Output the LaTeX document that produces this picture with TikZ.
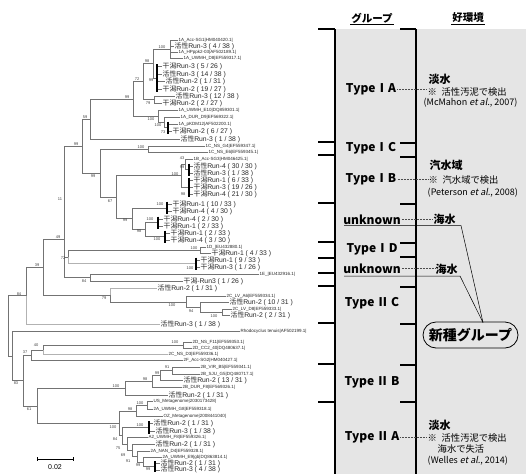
\documentclass[tikz,border=0pt]{standalone}
\usepackage{fontspec}
\newfontfamily\jp{Noto Sans CJK JP}
\newfontfamily\jpsl[FakeSlant=0.2]{Noto Sans CJK JP}
\newfontfamily\lib{Liberation Sans}
\newcommand{\tsp}{\hspace{0.35em}}
\newcommand{\KS}{{\jp 活性}}
\newcommand{\HG}{{\jp 干潟}}
\begin{document}
\begin{tikzpicture}[x=1pt,y=-1pt,
  br/.style={draw=black!55, line width=0.45pt},
  lbr/.style={draw=black!30, line width=0.45pt},
  bar/.style={draw=black, line width=1.2pt, shorten <=-2.5pt, shorten >=-2.5pt},
  big/.style={anchor=west, inner sep=0.5pt, font={\lib\fontsize{6.8}{7}\selectfont}, text=black!85},
  sml/.style={anchor=west, inner sep=0.5pt, font={\lib\fontsize{4.5}{5}\selectfont}, text=black!85},
  bs/.style={inner sep=0pt, font={\lib\fontsize{4}{4.5}\selectfont}, text=black!75},
  col/.style={draw=black, line width=1.3pt},
  hdr/.style={inner sep=1pt, font={\jp\bfseries\fontsize{10.5}{12}\selectfont}},
  typ/.style={inner sep=1pt, font={\jp\bfseries\fontsize{12}{14}\selectfont}},
  env/.style={anchor=west, inner sep=0.5pt, font={\jp\bfseries\fontsize{11}{13}\selectfont}},
  note/.style={anchor=west, inner sep=0.5pt, font={\jp\fontsize{9.3}{11}\selectfont}},
  cite/.style={inner sep=0.5pt, font={\jp\fontsize{9}{11}\selectfont}},
  dotc/.style={draw=black!70, line width=0.5pt, densely dotted},
  thin/.style={draw=black, line width=0.5pt},
  sc/.style={draw=black, line width=0.8pt}]
\useasboundingbox (0,0) rectangle (526,474);

% ---------------- right-hand panel ----------------
\fill[black!10] (335,29) rectangle (526,474);
\draw[col] (335,29) -- (335,474);
\draw[col] (416,29) -- (416,474);
\foreach \y in {29,142,155,203,242,258,273,286,323,364,402}
  \draw[col] (318,\y) -- (335,\y);
\foreach \y in {29,143,157,204,243,257,287,324,365,402}
  \draw[col] (400,\y) -- (416,\y);

\node[hdr] (gh) at (372,18) {グループ};
\draw[line width=0.8pt] (gh.south west) -- (gh.south east);
\node[hdr] (eh) at (468,18) {好環境};
\draw[line width=0.8pt] (eh.south west) -- (eh.south east);

\node[typ] (tIA) at (371,89.5) {Type\tsp I\tsp A};
\node[typ] (tIC) at (371,148) {Type\tsp I\tsp C};
\node[typ] (tIB) at (371,179) {Type\tsp I\tsp B};
\node[typ] (u1) at (372,219.5) {unknown};
\node[typ] (tID) at (372,249) {Type\tsp I\tsp D};
\node[typ] (u2) at (372,268.5) {unknown};
\node[typ] (tIIC) at (372,303) {Type\tsp II\tsp C};
\node[typ] (tIIB) at (372,382) {Type\tsp II\tsp B};
\node[typ] (tIIA) at (372,437) {Type\tsp II\tsp A};

\node[env] (eIA1) at (428,79.5) {淡水};
\node[note] (eIA2) at (427,91.5) {※\enspace 活性汚泥で検出};
\node[cite] (eIA3) at (470.5,102.5) {(McMahon {\jpsl et al.}, 2007)};
\draw[dotc] (tIA.east) -- (tIA.east -| eIA2.west);

\node[env] (eIB1) at (429,165) {汽水域};
\node[note] (eIB2) at (428,180) {※\enspace 汽水域で検出};
\node[cite,anchor=west] (eIB3) at (427,192.5) {(Peterson {\jpsl et al.}, 2008)};
\draw[dotc] (tIB.east) -- (tIB.east -| eIB2.west);

\node[env] (s1) at (433,219.5) {海水};
\draw[dotc] (u1.east) -- (u1.east -| s1.west);
\node[env] (s2) at (435,269.5) {海水};
\draw[dotc] (u2.east) -- (u2.east -| s2.west);

\node[env] (eIIA1) at (428,425) {淡水};
\node[note] (eIIA2) at (427,437.5) {※\enspace 活性汚泥で検出};
\node[note] (eIIA3) at (437,449) {海水で失活};
\node[cite,anchor=west] (eIIA4) at (427,460.5) {(Welles {\jpsl et al.}, 2014)};
\draw[dotc] (tIIA.east) -- (tIIA.east -| eIIA2.west);

\node[draw, line width=0.8pt, rounded corners=13pt, minimum width=95pt, minimum height=26pt,
      inner sep=1pt, font={\jp\bfseries\fontsize{14}{16}\selectfont}] (nb) at (470.5,335) {新種グループ};
\coordinate (tip) at (483,322.5);
\coordinate (u1s) at (344,225.5);
\coordinate (u1e) at (461,225.5);
\coordinate (u2s) at (344,276);
\coordinate (u2e) at (460,276);
\draw[thin] (u1s) -- (u1e) -- (tip);
\draw[thin] (u2s) -- (u2e) -- (tip);

% ---------------- tree: leaves ----------------
\node[sml] (L1) at (178,40) {1A\_Acc-SG1|HM040420.1|};
\node[big] (L2) at (174,46) {\KS Run-3 ( 4 / 38 )};
\node[sml] (L3) at (178,52) {1A\_HPppk2-03|AF502189.1|};
\node[sml] (L4) at (183,58) {1A\_UWMH\_D8|EF559317.1|};
\node[big] (L5) at (162,66.5) {\HG Run-3 ( 5 / 26 )};
\node[big] (L6) at (162,74) {\KS Run-3 ( 14 / 38 )};
\node[big] (L7) at (165,81.5) {\KS Run-2 ( 1 / 31 )};
\node[big] (L8) at (162,89) {\HG Run-2 ( 19 / 27 )};
\node[big] (L9) at (175,96) {\KS Run-3 ( 12 / 38 )};
\node[big] (L10) at (162,103) {\HG Run-2 ( 2 / 27 )};
\node[sml] (L11) at (178,110.5) {1A\_UWMH\_E10|DQ859301.1|};
\node[sml] (L12) at (180,117) {1A\_DUR\_D9|EF569322.1|};
\node[sml] (L13) at (178,124) {1A\_pKDM12|AF502200.1|};
\node[big] (L14) at (172,131) {\HG Run-2 ( 6 / 27 )};
\node[big] (L15) at (180,139) {\KS Run-3 ( 1 / 38 )};
\node[sml] (L16) at (205,146.5) {1C\_NS\_G4|EF559347.1|};
\node[sml] (L17) at (208,152) {1C\_NS\_E6|EF559345.1|};
\node[sml] (L18) at (193,159) {1B\_Acc-SG3|HM046425.1|};
\node[big] (L19) at (193,166) {\KS Run-4 ( 30 / 30 )};
\node[big] (L20) at (193,173) {\KS Run-3 ( 1 / 38 )};
\node[big] (L21) at (193,180) {\HG Run-1 ( 6 / 33 )};
\node[big] (L22) at (193,187) {\HG Run-3 ( 19 / 26 )};
\node[big] (L23) at (193,194) {\HG Run-4 ( 21 / 30 )};
\node[big] (L24) at (172,204) {\HG Run-1 ( 10 / 33 )};
\node[big] (L25) at (172,211.5) {\HG Run-4 ( 4 / 30 )};
\node[big] (L26) at (163,219) {\HG Run-4 ( 2 / 30 )};
\node[big] (L27) at (163,226) {\HG Run-1 ( 2 / 33 )};
\node[big] (L28) at (170,233) {\HG Run-1 ( 2 / 33 )};
\node[big] (L29) at (170,240) {\HG Run-4 ( 3 / 30 )};
\node[sml] (L30) at (206,247) {1D\_|EU432880.1|};
\node[big] (L31) at (211,253.5) {\HG Run-1 ( 4 / 33 )};
\node[big] (L32) at (200,260) {\HG Run-1 ( 9 / 33 )};
\node[big] (L33) at (200,267) {\HG Run-3 ( 1 / 26 )};
\node[sml] (L34) at (259,274) {1E\_|EU432916.1|};
\node[big] (L35) at (183,281.5) {\HG -Run3 ( 1 / 26 )};
\node[big] (L36) at (157,288) {\KS Run-2 ( 1 / 31 )};
\node[sml] (L37) at (226,296.5) {2C\_LV\_A6|EF559334.1|};
\node[big] (L38) at (229,302) {\KS Run-2 ( 10 / 31 )};
\node[sml] (L39) at (232,309) {2C\_LV\_D8|EF559333.1|};
\node[big] (L40) at (230,315.5) {\KS Run-2 ( 2 / 31 )};
\node[big] (L41) at (160,324) {\KS Run-3 ( 1 / 38 )};
\node[sml] (L42) at (240,331.5) {Rhodocyclus tenuis|AF502199.1|};
\node[sml] (L43) at (192,342.5) {2D\_NS\_F11|EF559353.1|};
\node[sml] (L44) at (192,348) {2D\_CC2\_40|DQ480637.1|};
\node[sml] (L45) at (168,354.5) {2C\_NS\_D3|EF559336.1|};
\node[sml] (L46) at (183,360.5) {2F\_Acc-SG2|HM040427.1|};
\node[sml] (L47) at (200,367.5) {2B\_VIR\_B5|EF559341.1|};
\node[sml] (L48) at (200,374) {2B\_SJU\_G5|DQ480717.1|};
\node[big] (L49) at (183,380.5) {\KS Run-2 ( 13 / 31 )};
\node[sml] (L50) at (182,387) {2B\_DUR\_F8|EF569326.1|};
\node[big] (L51) at (168,395) {\KS Run-2 ( 1 / 31 )};
\node[sml] (L52) at (153,401.5) {US\_Metagenome|2030173428|};
\node[sml] (L53) at (153,409) {2A\_UWMH\_G8|EF559318.1|};
\node[sml] (L54) at (163,416.5) {OZ\_Metagenome|2008441040|};
\node[big] (L55) at (153,423.5) {\KS Run-2 ( 1 / 31 )};
\node[big] (L56) at (155,431) {\KS Run-3 ( 1 / 38 )};
\node[sml] (L57) at (148,437.5) {A2\_UWMH\_F8|EF559326.1|};
\node[big] (L58) at (155,444.5) {\KS Run-2 ( 1 / 31 )};
\node[sml] (L59) at (150,451) {2A\_NAN\_D4|EF559328.1|};
\node[sml] (L60) at (162,457) {2A\_UWMH\_E9|gb|DQ863814.1|};
\node[big] (L61) at (160,463.5) {\KS Run-2 ( 1 / 31 )};
\node[big] (L62) at (160,469.8) {\KS Run-3 ( 4 / 38 )};

% ---------------- tree: internal nodes ----------------
\coordinate (nA) at (170,49);
\coordinate (b99) at (157,77.75);
\coordinate (n98) at (153,63.4);
\coordinate (n79a) at (154,99.5);
\coordinate (n72) at (143,81.4);
\coordinate (b73) at (168,127.5);
\coordinate (n100b) at (164,122.2);
\coordinate (n100a) at (158,116.4);
\coordinate (nIA) at (133,98.9);
\coordinate (n59) at (90,118.9);
\coordinate (n1C) at (148,149.2);
\coordinate (b99e) at (189,169.5);
\coordinate (n43) at (185,164.2);
\coordinate (b98) at (189,187);
\coordinate (n1B) at (181,175.6);
\coordinate (bU1) at (167,207.75);
\coordinate (bU2) at (158,222.5);
\coordinate (bU3) at (165,236.5);
\coordinate (n98b) at (145,229.5);
\coordinate (n99d) at (132,218.6);
\coordinate (n67) at (116,197.1);
\coordinate (n1CB) at (100,173.2);
\coordinate (n99c) at (82,146);
\coordinate (n1D) at (200,250.2);
\coordinate (bU4) at (196,263.5);
\coordinate (n72b) at (68,256.9);
\coordinate (n84a) at (90,277.7);
\coordinate (n11) at (64,239);
\coordinate (n2Cc) at (222,312.2);
\coordinate (n2Cb) at (200,307.1);
\coordinate (n2Ca) at (186,301.8);
\coordinate (n79b) at (110,294.9);
\coordinate (n49) at (43,267);
\coordinate (n39) at (26,295.5);
\coordinate (n2D) at (183,345.2);
\coordinate (n40) at (43,350.1);
\coordinate (n37) at (31,355.3);
\coordinate (n91) at (172,370.7);
\coordinate (n99f) at (160,375.6);
\coordinate (n98c) at (152,381.3);
\coordinate (nIIB) at (125,388.2);
\coordinate (n100c) at (147,405.25);
\coordinate (n98d) at (136,410.9);
\coordinate (bIIA) at (149,427.25);
\coordinate (bIIA2) at (155,466.6);
\coordinate (n99g) at (143,461.8);
\coordinate (n91b) at (137,456.4);
\coordinate (n69) at (132,450.5);
\coordinate (n75) at (127,444);
\coordinate (n84b) at (122,435.6);
\coordinate (nIIA) at (119,423.3);
\coordinate (n61) at (37,405.8);
\coordinate (n23) at (23,380.5);
\coordinate (n83) at (12,356);
\coordinate (nR) at (8,325.75);

% branches drawn as elbows parent |- child
\foreach \p/\c in {nA/L1.west, nA/L2.west, nA/L3.west, nA/L4.west,
  b99/L5.west, b99/L6.west, b99/L7.west, b99/L8.west,
  n98/nA, n98/b99, n79a/L9.west, n79a/L10.west, n72/n98, n72/n79a,
  b73/L13.west, b73/L14.west, n100b/L12.west, n100b/b73,
  n100a/L11.west, n100a/n100b, nIA/n72, nIA/n100a, n59/nIA, n59/L15.west,
  n1C/L16.west, n1C/L17.west,
  b99e/L19.west, b99e/L20.west, n43/L18.west, n43/b99e,
  b98/L21.west, b98/L22.west, b98/L23.west, n1B/n43, n1B/b98,
  bU1/L24.west, bU1/L25.west, bU2/L26.west, bU2/L27.west,
  bU3/L28.west, bU3/L29.west, n98b/bU2, n98b/bU3, n99d/bU1, n99d/n98b,
  n67/n1B, n67/n99d, n1CB/n1C, n1CB/n67, n99c/n59, n99c/n1CB,
  n1D/L30.west, n1D/L31.west, bU4/L32.west, bU4/L33.west, n72b/n1D,
  n84a/L34.west, n84a/L35.west, n11/n99c, n11/n72b, n11/n84a,
  n2Cc/L39.west, n2Cc/L40.west, n2Cb/L38.west, n2Cb/n2Cc,
  n2Ca/L37.west, n2Ca/n2Cb, n79b/n2Ca, n49/n11, n49/n79b, n39/n49,
  n2D/L43.west, n2D/L44.west, n40/n2D, n37/n40, n37/L46.west,
  n91/L47.west, n91/L48.west, n99f/n91, n99f/L49.west, n98c/n99f, n98c/L50.west,
  nIIB/n98c, nIIB/L51.west,
  n100c/L52.west, n100c/L53.west, n98d/n100c, n98d/L54.west,
  bIIA/L55.west, bIIA/L56.west, bIIA2/L61.west, bIIA2/L62.west,
  n99g/L60.west, n99g/bIIA2, n91b/L59.west, n91b/n99g, n69/L58.west, n69/n91b,
  n75/L57.west, n75/n69, n84b/bIIA, n84b/n75, nIIA/n98d, nIIA/n84b,
  n61/nIIB, n61/nIIA, n23/n37, n23/n61, n83/L42.west, n83/n23,
  nR/n39, nR/n83}
  \draw[br] (\p) |- (\c);
\foreach \p/\c in {n72b/bU4, n79b/L36.west, n39/L41.west, n40/L45.west}
  \draw[lbr] (\p) |- (\c);

% clusters of identical sequences
\foreach \b/\t/\u in {b99/L5/L8, b73/L13/L14, b99e/L19/L20, b98/L21/L23,
  bU1/L24/L25, bU2/L26/L27, bU3/L28/L29, bU4/L32/L33, bIIA/L55/L56, bIIA2/L61/L62}
  \draw[bar] (\b |- \t.west) -- (\b |- \u.west);

% bootstrap values
\foreach \x/\y/\t [count=\i] in {162/47/100, 147/61.5/98, 151/80/99, 137/79.5/72,
  148/103/79, 127/97/99, 151/119.5/100, 158/125/100, 163/132/73, 85/117/59,
  76/144/99, 141/147/100, 93/176/99, 110/201/67, 175/174/100, 182/158/43,
  182/167/99, 183/194/98, 160/204/100, 125/220/99, 150/219/100, 139/231/98,
  157/239/100, 194/248/100, 190/268/100, 60/199/11, 63/258/72, 84/281/84,
  58/237/49, 37/265/39, 104/298/79, 19/294/84, 172/305/100, 191/311/94,
  214/316/100, 16/383/83, 36/345/40, 25/352/37, 175/342/100, 29/409/61,
  116/386/100, 145/379/98, 157/373/99, 167/367/91, 113/427/100, 140/403/100,
  130/409/98, 140/425/100, 115/439/84, 118/448/75, 123/455/69, 128/461/91,
  138/465/99, 148/469/99}
  \node[bs] (bs\i) at (\x,\y) {\t};

% scale bar
\coordinate (sb1) at (37,459);
\coordinate (sb2) at (73,459);
\draw[sc] (sb1) -- (sb2);
\draw[sc] ([yshift=2pt]sb1) -- ([yshift=-2pt]sb1);
\draw[sc] ([yshift=2pt]sb2) -- ([yshift=-2pt]sb2);
\node[inner sep=0pt, font={\lib\fontsize{7}{8}\selectfont}] (sbl) at (55,467) {0.02};
\end{tikzpicture}
\end{document}
